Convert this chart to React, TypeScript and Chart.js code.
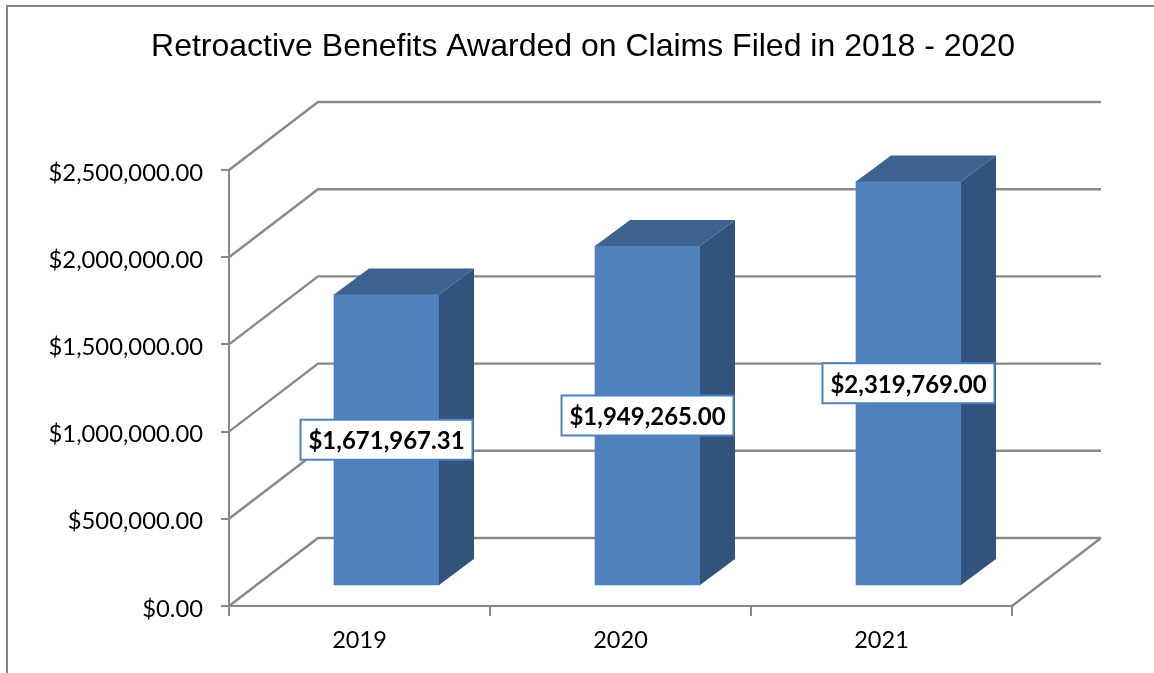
import React, { useEffect, useRef } from "react";
import { Chart, registerables } from "chart.js";

Chart.register(...registerables);

const categories = ["2019", "2020", "2021"];
const benefits = [1671967.31, 1949265, 2319769];
const yMax = 2500000;
const yStep = 500000;
const titleText = "Retroactive Benefits Awarded on Claims Filed in 2018 - 2020";

const GRAY = "#888888";
const FRONT = "#4f81bd";
const SIDE = "#32547c";
const TOP = "#3c6290";
const WALL = { dx: 89, dy: -68 };
const BAR_SHIFT = { dx: 27, dy: -20 };
const BAR_DEPTH = { dx: 35, dy: -26 };
const AXIS_FONT = "Lato";

const money = (v: number) =>
  "$" + v.toLocaleString("en-US", { minimumFractionDigits: 2, maximumFractionDigits: 2 });

const poly = (ctx: CanvasRenderingContext2D, pts: number[][], fill: string) => {
  ctx.beginPath();
  pts.forEach(([x, y], i) => (i ? ctx.lineTo(x, y) : ctx.moveTo(x, y)));
  ctx.closePath();
  ctx.fillStyle = fill;
  ctx.fill();
};

const threeD = {
  id: "threeD",
  afterLayout(chart: any) {
    const tb = chart.titleBlock;
    if (tb) {
      tb.left = 83;
      tb.right = 1083;
    }
  },
  beforeDraw(chart: any) {
    const { ctx, width } = chart;
    ctx.save();
    ctx.strokeStyle = "#868686";
    ctx.lineWidth = 2;
    ctx.beginPath();
    ctx.moveTo(7, chart.height);
    ctx.lineTo(7, 6);
    ctx.lineTo(width, 6);
    ctx.stroke();
    ctx.restore();
  },
  beforeDatasetsDraw(chart: any) {
    const { ctx, scales } = chart;
    const { x, y } = scales;
    ctx.save();
    ctx.strokeStyle = GRAY;
    ctx.lineWidth = 2.4;
    ctx.beginPath();
    y.ticks.forEach((t: any) => {
      const py = y.getPixelForValue(t.value);
      ctx.moveTo(x.left, py);
      ctx.lineTo(x.left + WALL.dx, py + WALL.dy);
      ctx.lineTo(x.right + WALL.dx, py + WALL.dy);
    });
    ctx.moveTo(x.right, y.bottom);
    ctx.lineTo(x.right + WALL.dx, y.bottom + WALL.dy);
    ctx.stroke();
    ctx.restore();
  },
  beforeDatasetDraw(chart: any) {
    chart.ctx.save();
    chart.ctx.translate(BAR_SHIFT.dx, BAR_SHIFT.dy);
  },
  afterDatasetDraw(chart: any, args: any) {
    const { ctx } = chart;
    ctx.restore();
    const { dx, dy } = BAR_DEPTH;
    args.meta.data.forEach((bar: any) => {
      const p = bar.getProps(["x", "y", "base", "width"], true);
      const l = p.x - p.width / 2 + BAR_SHIFT.dx;
      const r = p.x + p.width / 2 + BAR_SHIFT.dx;
      const t = p.y + BAR_SHIFT.dy;
      const b = p.base + BAR_SHIFT.dy;
      poly(ctx, [[r, t], [r + dx, t + dy], [r + dx, b + dy], [r, b]], SIDE);
      poly(ctx, [[l, t], [l + dx, t + dy], [r + dx, t + dy], [r, t]], TOP);
    });
  },
  afterDatasetsDraw(chart: any) {
    const { ctx } = chart;
    const meta = chart.getDatasetMeta(0);
    ctx.save();
    ctx.font = `bold 24px ${AXIS_FONT}`;
    ctx.textAlign = "center";
    ctx.textBaseline = "middle";
    meta.data.forEach((bar: any, i: number) => {
      const p = bar.getProps(["x", "y", "base"], true);
      const cx = p.x + BAR_SHIFT.dx;
      const cy = (p.y + p.base) / 2 + BAR_SHIFT.dy;
      const w = 172;
      const h = 40;
      ctx.fillStyle = "#ffffff";
      ctx.strokeStyle = FRONT;
      ctx.lineWidth = 2;
      ctx.fillRect(cx - w / 2, cy - h / 2, w, h);
      ctx.strokeRect(cx - w / 2, cy - h / 2, w, h);
      ctx.fillStyle = "#000000";
      ctx.fillText(money(benefits[i]), cx, cy + 2);
    });
    ctx.restore();
  },
};

export default function App() {
  const ref = useRef<HTMLCanvasElement>(null);
  useEffect(() => {
    const chart = new Chart(ref.current!, {
      type: "bar",
      data: {
        labels: categories,
        datasets: [
          {
            data: benefits,
            backgroundColor: FRONT,
            borderWidth: 0,
            barThickness: 105,
            clip: false as any,
          },
        ],
      },
      options: {
        responsive: false,
        animation: false,
        devicePixelRatio: 1,
        layout: { padding: { right: 142, left: 0, top: 0, bottom: 0 } },
        plugins: {
          legend: { display: false },
          tooltip: { enabled: false },
          title: {
            display: true,
            text: titleText,
            color: "#000000",
            font: { family: "Liberation Sans", size: 32, weight: "normal", lineHeight: 1.2 },
            padding: { top: 28, bottom: 103.6 },
            align: "center",
            fullSize: false,
          },
        },
        scales: {
          x: {
            afterFit: (s: any) => {
              s.height = 67;
            },
            offset: true,
            grid: {
              offset: true,
              drawOnChartArea: false,
              color: GRAY,
              lineWidth: 2,
              tickLength: 10,
            },
            border: { color: GRAY, width: 2 },
            ticks: {
              color: "#000000",
              padding: 10,
              font: { family: AXIS_FONT, size: 23.5 },
              maxRotation: 0,
            },
          },
          y: {
            min: 0,
            max: yMax,
            afterFit: (s: any) => {
              s.width = 229;
            },
            grid: {
              drawOnChartArea: false,
              color: GRAY,
              lineWidth: 2,
              tickLength: 8,
            },
            border: { color: GRAY, width: 2 },
            ticks: {
              stepSize: yStep,
              color: "#000000",
              padding: 18,
              font: { family: AXIS_FONT, size: 23.8, lineHeight: "6px" },
              callback: (v: any) => ["", money(Number(v))],
            },
          },
        },
      },
      plugins: [threeD],
    } as any);
    return () => chart.destroy();
  }, []);
  return (
    <div style={{ position: "fixed", left: 0, top: 0, width: 1154, height: 673, background: "#fff" }}>
      <canvas ref={ref} width={1154} height={673} style={{ display: "block" }} />
    </div>
  );
}
